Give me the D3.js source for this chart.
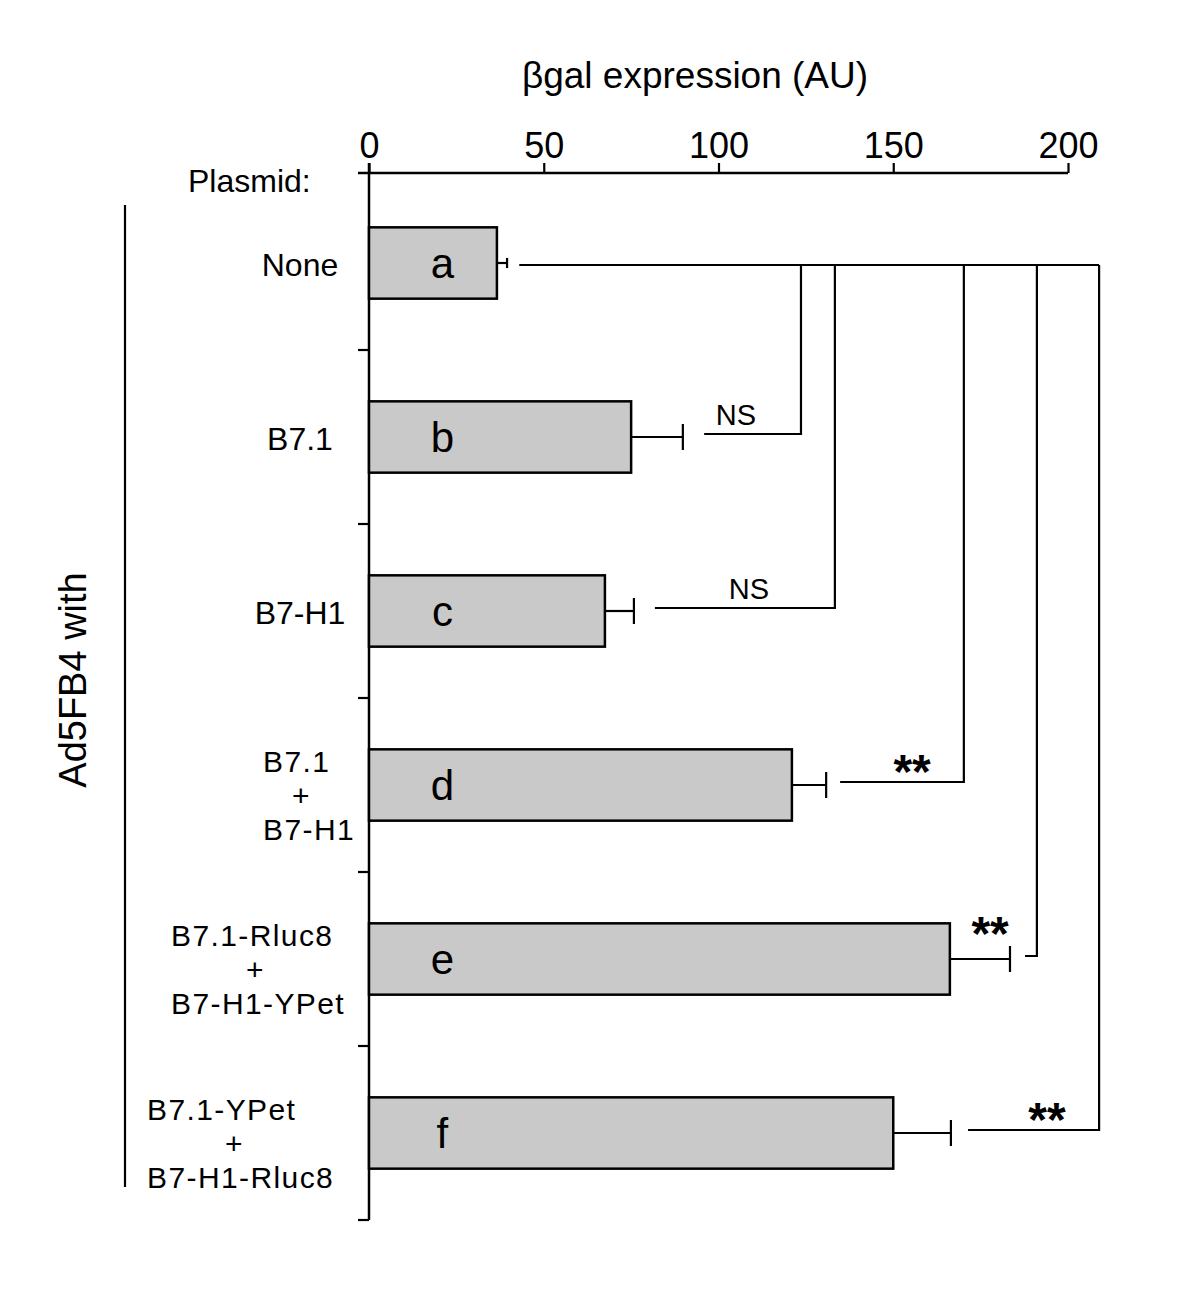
<!DOCTYPE html>
<html>
<head>
<meta charset="utf-8">
<script src="https://cdn.jsdelivr.net/npm/d3@7"></script>
<style>
  html, body { margin: 0; padding: 0; background: #fff; }
  svg text { font-family: "Liberation Sans", Arial, Helvetica, sans-serif; fill: #000; }
</style>
</head>
<body>
<svg id="chart" width="1200" height="1304"></svg>
<script>
// ---------- data ----------
const categories = ["None", "B7.1", "B7-H1", "B7.1+B7-H1", "B7.1-Rluc8+B7-H1-YPet", "B7.1-YPet+B7-H1-Rluc8"];
const categoryLines = [
  ["None"],
  ["B7.1"],
  ["B7-H1"],
  ["B7.1", "+", "B7-H1"],
  ["B7.1-Rluc8", "+", "B7-H1-YPet"],
  ["B7.1-YPet", "+", "B7-H1-Rluc8"]
];
const barLetters = ["a", "b", "c", "d", "e", "f"];
const meanValues = [36.6, 75.0, 67.5, 121.0, 166.2, 150.0];
const errorValues = [39.5, 89.8, 75.8, 130.8, 183.4, 166.5];
const tickValues = [0, 50, 100, 150, 200];
// significance brackets vs group "None"
const bracketTargets = [1, 2, 3, 4, 5];
const bracketStarts = [95.9, 81.8, 134.8, 187.7, 171.4];
const bracketDrops = [123.6, 133.3, 170.2, 191.1, 208.9];
const bracketLabels = ["NS", "NS", "**", "**", "**"];
const bracketLabelValues = [105.0, 108.7, 155.4, 177.7, 194.0];
const bracketOriginValue = 43.0;

// ---------- layout ----------
const svg = d3.select("#chart");
const x = d3.scaleLinear().domain([0, 200]).range([369, 1068]);
const y = d3.scaleBand().domain(categories).range([176, 1220]).paddingInner(0.59).paddingOuter(0.295);
const axisY = 173;
const yc = i => y(categories[i]) + y.bandwidth() / 2;

// top axis
const axis = d3.axisTop(x).tickValues(tickValues).tickSize(10).tickSizeOuter(0).tickPadding(5);
const gAxis = svg.append("g").attr("transform", `translate(0,${axisY})`).call(axis);
gAxis.select(".domain").remove();
gAxis.selectAll(".tick line").attr("stroke", "#000").attr("stroke-width", 2.2);
gAxis.selectAll(".tick text").attr("font-size", 36)
  .attr("font-family", '"Liberation Sans", Arial, sans-serif');
svg.append("line").attr("x1", x(0) - 11).attr("x2", x(200)).attr("y1", axisY).attr("y2", axisY)
  .attr("stroke", "#000").attr("stroke-width", 2.5);

// title
svg.append("text").attr("x", 695).attr("y", 88).attr("text-anchor", "middle")
  .attr("font-size", 37).text("βgal expression (AU)");

svg.append("text").attr("x", 188).attr("y", 192).attr("font-size", 32).text("Plasmid:");

// vertical axis line with category separators
const yEnd = y.range()[1];
svg.append("line").attr("x1", x(0)).attr("x2", x(0)).attr("y1", axisY - 10).attr("y2", yEnd)
  .attr("stroke", "#000").attr("stroke-width", 2.5);
const boundaries = categories.map(c => y(c) + y.bandwidth() / 2 + y.step() / 2);
svg.selectAll("line.sep").data(boundaries).enter().append("line").attr("class", "sep")
  .attr("x1", x(0) - 11).attr("x2", x(0)).attr("y1", d => d).attr("y2", d => d)
  .attr("stroke", "#000").attr("stroke-width", 2.2);

// bars
svg.selectAll("rect.bar").data(meanValues).enter().append("rect").attr("class", "bar")
  .attr("x", x(0)).attr("y", (d, i) => y(categories[i]))
  .attr("width", d => x(d) - x(0)).attr("height", y.bandwidth())
  .attr("fill", "#c9c9c9").attr("stroke", "#000").attr("stroke-width", 2.5);

// letters in bars
svg.selectAll("text.letter").data(barLetters).enter().append("text").attr("class", "letter")
  .attr("x", x(21)).attr("y", (d, i) => yc(i) + 15).attr("text-anchor", "middle")
  .attr("font-size", 42).text(d => d);

// error bars
errorValues.forEach((e, i) => {
  const x0 = x(meanValues[i]), x1 = x(e), cy = yc(i);
  const half = Math.min(13, (x1 - x0) / 2);
  svg.append("line").attr("x1", x0).attr("x2", x1).attr("y1", cy).attr("y2", cy)
    .attr("stroke", "#000").attr("stroke-width", 2.2);
  svg.append("line").attr("x1", x1).attr("x2", x1).attr("y1", cy - half).attr("y2", cy + half)
    .attr("stroke", "#000").attr("stroke-width", 2.2);
});

// significance brackets
const topY = yc(0) + 2;
svg.append("line").attr("x1", x(bracketOriginValue)).attr("x2", x(d3.max(bracketDrops)))
  .attr("y1", topY).attr("y2", topY).attr("stroke", "#000").attr("stroke-width", 2.2);
bracketTargets.forEach((t, k) => {
  const by = yc(t) - 3;
  svg.append("path")
    .attr("d", `M${x(bracketStarts[k])},${by}H${x(bracketDrops[k])}V${topY}`)
    .attr("fill", "none").attr("stroke", "#000").attr("stroke-width", 2.2);
  const isNS = bracketLabels[k] === "NS";
  svg.append("text").attr("x", x(bracketLabelValues[k]))
    .attr("y", isNS ? by - 9 : by + (t === 4 ? -6 : 6))
    .attr("text-anchor", "middle")
    .attr("font-size", isNS ? 29 : 48)
    .style("font-weight", isNS ? "normal" : "bold")
    .text(bracketLabels[k]);
});

// category labels
categoryLines.forEach((lines, i) => {
  const cy = yc(i);
  if (lines.length === 1) {
    svg.append("text").attr("x", 300).attr("y", cy + 13).attr("text-anchor", "middle")
      .attr("font-size", 32).text(lines[0]);
  } else {
    const left = [263, 171, 147][i - 3];
    const plusX = [292, 246, 225][i - 3];
    lines.forEach((l, j) => {
      svg.append("text")
        .attr("x", l === "+" ? plusX : left)
        .attr("y", cy + 10 + (j - 1) * 34 + 11)
        .attr("font-size", 30)
        .attr("letter-spacing", l === "+" ? 0 : 1.4)
        .text(l);
    });
  }
});

// group label
svg.append("line").attr("x1", 125).attr("x2", 125).attr("y1", 205).attr("y2", 1187)
  .attr("stroke", "#000").attr("stroke-width", 2.2);
svg.append("text").attr("transform", "translate(86,680) rotate(-90)").attr("text-anchor", "middle")
  .attr("font-size", 38).text("Ad5FB4 with");
</script>
</body>
</html>
